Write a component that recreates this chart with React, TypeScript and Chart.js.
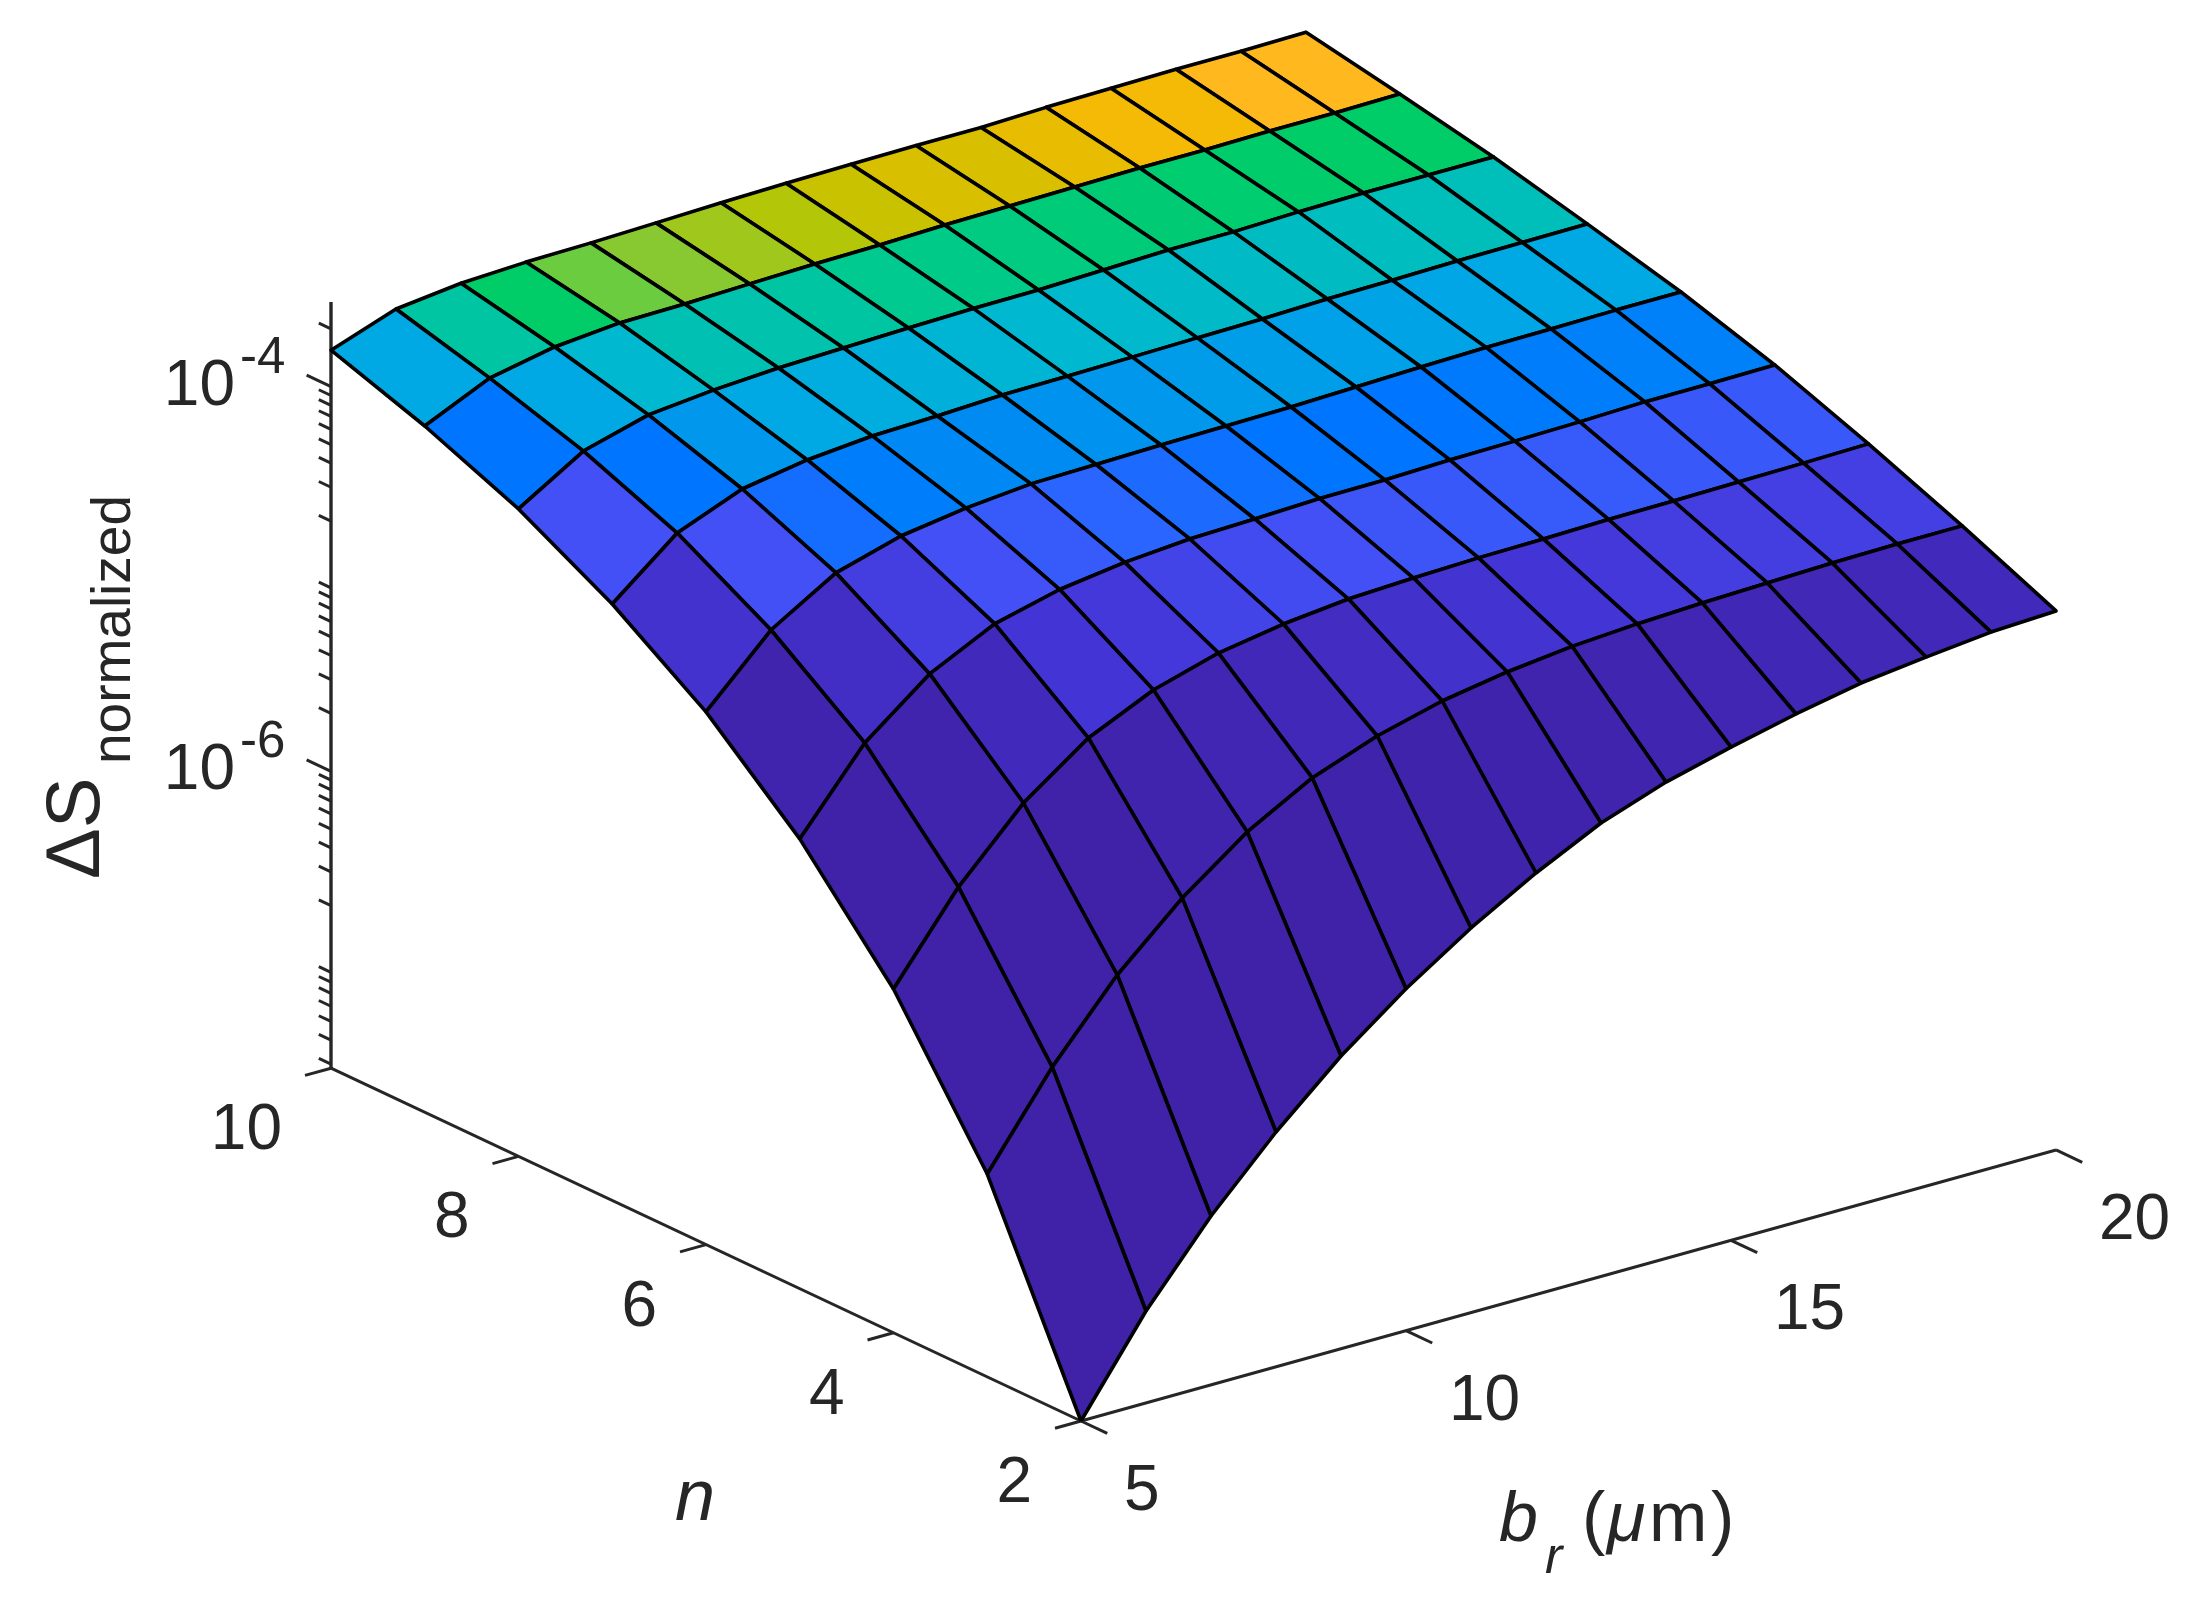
import { useEffect, useRef } from "react";
import { Chart, registerables } from "chart.js";

Chart.register(...registerables);

const bValues = [5, 6, 7, 8, 9, 10, 11, 12, 13, 14, 15, 16, 17, 18, 19, 20];
const nValues = [2, 3, 4, 5, 6, 7, 8, 9, 10];

// log10 of delta S, one list per n, read along b = 5..20
const logS_n2 = [-7.544, -7.066, -6.666, -6.323, -6.022, -5.766, -5.544, -5.352, -5.186, -5.067, -4.979, -4.901, -4.834, -4.793, -4.757, -4.741];
const logS_n3 = [-6.489, -6.027, -5.642, -5.336, -5.086, -4.899, -4.775, -4.687, -4.63, -4.591, -4.568, -4.553, -4.543, -4.533, -4.528, -4.528];
const logS_n4 = [-5.756, -5.32, -4.977, -4.733, -4.577, -4.479, -4.422, -4.386, -4.371, -4.36, -4.356, -4.348, -4.346, -4.341, -4.337, -4.331];
const logS_n5 = [-5.205, -4.8, -4.535, -4.369, -4.284, -4.237, -4.209, -4.199, -4.187, -4.184, -4.174, -4.17, -4.164, -4.154, -4.154, -4.15];
const logS_n6 = [-4.774, -4.442, -4.239, -4.141, -4.09, -4.058, -4.051, -4.044, -4.039, -4.034, -4.024, -4.014, -4.006, -4.004, -4.0, -4.0];
const logS_n7 = [-4.442, -4.167, -4.032, -3.975, -3.944, -3.934, -3.919, -3.915, -3.91, -3.904, -3.9, -3.89, -3.886, -3.88, -3.878, -3.875];
const logS_n8 = [-4.177, -3.97, -3.876, -3.841, -3.82, -3.81, -3.8, -3.793, -3.79, -3.78, -3.77, -3.77, -3.76, -3.756, -3.756, -3.756];
const logS_n9 = [-3.975, -3.82, -3.752, -3.721, -3.717, -3.706, -3.696, -3.692, -3.682, -3.677, -3.672, -3.667, -3.667, -3.663, -3.663, -3.658];
const logS_n10 = [-3.81, -3.69, -3.65, -3.634, -3.628, -3.618, -3.607, -3.6, -3.595, -3.592, -3.592, -3.581, -3.576, -3.571, -3.571, -3.566];
const logS = [logS_n2, logS_n3, logS_n4, logS_n5, logS_n6, logS_n7, logS_n8, logS_n9, logS_n10];

// colormap position of each flat cell, one list per band of n, along b
const cells_n2 = [0, 0, 0, 0, 0, 0.1, 0.1, 0.2, 0.3, 0.4, 0.5, 0.7, 0.8, 0.9, 1];
const cells_n3 = [0, 0, 0, 0.3, 0.6, 0.9, 1.2, 1.5, 1.7, 1.8, 2, 2.2, 2.2, 2.3, 2.3];
const cells_n4 = [0, 0.3, 1, 1.8, 2, 2.5, 2.8, 3, 3.2, 3.4, 3.5, 3.5, 3.4, 3.4, 3.4];
const cells_n5 = [0.3, 1.3, 2.2, 3, 3.5, 4, 4.3, 4.7, 5, 5, 5, 5.2, 5.3, 5.4, 5.4];
const cells_n6 = [1.6, 3, 4.5, 5.3, 5.7, 5.8, 6.1, 6.3, 6.5, 6.6, 6.7, 6.8, 6.9, 7, 7];
const cells_n7 = [3, 5, 6.3, 7, 7.3, 7.5, 7.8, 8, 8.1, 8.3, 8.4, 8.5, 8.6, 8.8, 8.8];
const cells_n8 = [5, 7, 8, 9, 9.2, 9.5, 10, 10.2, 10.4, 10.6, 10.7, 10.8, 10.9, 11, 11];
const cells_n9 = [7, 9.5, 11, 12, 13, 14, 15, 16, 17, 17, 18, 19, 19, 20, 20];
const cellLevels = [cells_n2, cells_n3, cells_n4, cells_n5, cells_n6, cells_n7, cells_n8, cells_n9];

const colormap = [
  "#3f22a8", "#4129bb", "#4438db", "#4250f5", "#2a65ff", "#0075ff", "#0090f0",
  "#00a8e4", "#00b8d0", "#00c0b4", "#00ca90", "#00cc68", "#6ccc40", "#88c830",
  "#a0c81c", "#b4c608", "#c8c200", "#d8c000", "#e8bc00", "#f5ba05", "#ffb81e",
];

const nTicks = [2, 4, 6, 8, 10];
const bTicks = [5, 10, 15, 20];
const zMajorExponents = [-6, -4];
const zMinorDecades = [-8, -7, -6, -5, -4];
const zMinorFactors = [2, 3, 4, 5, 6, 7, 8, 9];
const Z_MIN = -7.544;
const Z_MAX = -3.56;

const AXIS_COLOR = "#262626";
const FONT = '"Liberation Sans", Arial, sans-serif';

// orthographic view of the box, in canvas pixels
function project(b: number, n: number, z: number) {
  return {
    x: 1081 + 65 * (b - 5) - 93.75 * (n - 2),
    y: 1421 - 18.07 * (b - 5) - 44.1 * (n - 2) - 192.3 * (z - Z_MIN),
  };
}

function cellColor(level: number) {
  const i = Math.min(Math.floor(level), colormap.length - 2);
  const t = level - i;
  const hex = (c: string, p: number) => parseInt(c.slice(p, p + 2), 16);
  const mix = (p: number) => Math.round(hex(colormap[i], p) * (1 - t) + hex(colormap[i + 1], p) * t);
  return `rgb(${mix(1)}, ${mix(3)}, ${mix(5)})`;
}

function axisLine(points: { x: number; y: number }[], width = 3) {
  return {
    data: points,
    showLine: true,
    fill: false,
    borderColor: AXIS_COLOR,
    borderWidth: width,
    pointRadius: 0,
    tension: 0,
  };
}

function buildDatasets() {
  const datasets: any[] = [];

  // first dataset is painted last, so the near cells come first
  cellLevels.forEach((row, r) => {
    row.forEach((level, c) => {
      const corners = [
        project(bValues[c], nValues[r], logS[r][c]),
        project(bValues[c + 1], nValues[r], logS[r][c + 1]),
        project(bValues[c + 1], nValues[r + 1], logS[r + 1][c + 1]),
        project(bValues[c], nValues[r + 1], logS[r + 1][c]),
      ];
      datasets.push({
        data: [...corners, corners[0]],
        showLine: true,
        fill: "shape",
        backgroundColor: cellColor(level),
        borderColor: "#000000",
        borderWidth: 3.6,
        borderJoinStyle: "round",
        pointRadius: 0,
        tension: 0,
      });
    });
  });

  datasets.push(axisLine([project(5, 2, Z_MIN), project(5, 10, Z_MIN)]));
  datasets.push(axisLine([project(5, 2, Z_MIN), project(20, 2, Z_MIN)]));
  datasets.push(axisLine([project(5, 10, Z_MIN), project(5, 10, Z_MAX)], 3.4));

  nTicks.forEach((n) => {
    datasets.push(axisLine([project(5, n, Z_MIN), project(4.6, n, Z_MIN)]));
  });
  bTicks.forEach((b) => {
    datasets.push(axisLine([project(b, 2, Z_MIN), project(b, 1.72, Z_MIN)]));
  });
  zMajorExponents.forEach((z) => {
    datasets.push(axisLine([project(5, 10, z), project(5, 10.26, z)]));
  });
  zMinorDecades.forEach((d) => {
    zMinorFactors.forEach((f) => {
      const z = d + Math.log10(f);
      if (z < Z_MIN || z > Z_MAX) return;
      datasets.push(axisLine([project(5, 10, z), project(5, 10.13, z)]));
    });
  });

  return datasets;
}

const labels = {
  id: "labels",
  afterDraw(chart: any) {
    const { ctx, scales } = chart;
    const px = (p: { x: number; y: number }) => ({
      x: scales.x.getPixelForValue(p.x),
      y: scales.y.getPixelForValue(p.y),
    });
    const text = (s: string, x: number, y: number, font: string, align: CanvasTextAlign = "left") => {
      ctx.font = `${font} ${FONT}`;
      ctx.textAlign = align;
      ctx.fillText(s, x, y);
    };

    ctx.save();
    ctx.fillStyle = AXIS_COLOR;
    ctx.textBaseline = "alphabetic";

    nTicks.forEach((n) => {
      const p = px(project(5, n, Z_MIN));
      text(String(n), p.x - 49, p.y + 81, "64px", "right");
    });
    bTicks.forEach((b) => {
      const p = px(project(b, 2, Z_MIN));
      text(String(b), p.x + 43, p.y + 89, "64px");
    });
    zMajorExponents.forEach((z) => {
      const p = px(project(5, 10, z));
      text("10", p.x - 96, p.y + 18, "64px", "right");
      text(String(z), p.x - 91, p.y - 14, "51px");
    });

    text("n", 695, 1520, "italic 72px", "center");
    text("b", 1499, 1541, "italic 70px");
    text("r", 1545, 1573, "italic 52px");
    text("(", 1582, 1541, "70px");
    text("μ", 1607, 1541, "italic 70px");
    text("m", 1649, 1541, "70px");
    text(")", 1711, 1541, "70px");

    ctx.translate(99, 879);
    ctx.rotate(-Math.PI / 2);
    text("ΔS", 0, 0, "76px");
    text("normalized", 115, 31, "55px");
    ctx.restore();
  },
};

export default function App() {
  const canvasRef = useRef<HTMLCanvasElement>(null);

  useEffect(() => {
    if (!canvasRef.current) return;
    const chart = new Chart(canvasRef.current, {
      type: "scatter",
      data: { datasets: buildDatasets() },
      options: {
        responsive: false,
        animation: false,
        devicePixelRatio: 1,
        layout: { padding: 0 },
        events: [],
        plugins: { legend: { display: false }, tooltip: { enabled: false } },
        scales: {
          x: { type: "linear", min: 0, max: 2201, display: false },
          y: { type: "linear", min: 0, max: 1611, reverse: true, display: false },
        },
      },
      plugins: [labels],
    } as any);
    return () => chart.destroy();
  }, []);

  return (
    <div style={{ position: "absolute", left: 0, top: 0, background: "#fff" }}>
      <canvas ref={canvasRef} width={2201} height={1611} style={{ display: "block" }} />
    </div>
  );
}
